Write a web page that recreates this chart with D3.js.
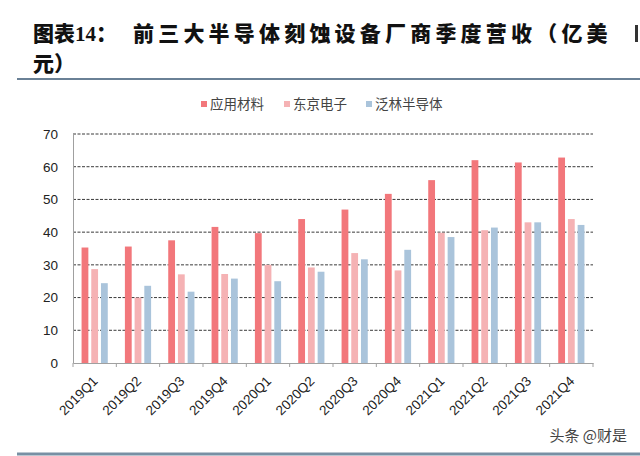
<!DOCTYPE html>
<html><head><meta charset="utf-8">
<script src="https://cdn.jsdelivr.net/npm/d3@7"></script>
<style>body{margin:0;background:#fff}svg{display:block}</style>
</head><body>
<svg id="c" width="640" height="456"></svg>
<script>
const categories = ["2019Q1","2019Q2","2019Q3","2019Q4","2020Q1","2020Q2","2020Q3","2020Q4","2021Q1","2021Q2","2021Q3","2021Q4"];
const seriesNames = ["应用材料","东京电子","泛林半导体"];
const amat = [35.3,35.6,37.5,41.6,39.7,44.0,46.9,51.7,55.9,62.0,61.3,62.8];
const tel  = [28.7,20.0,27.1,27.2,30.0,29.2,33.6,28.3,39.8,40.6,43.0,44.0];
const lam  = [24.4,23.6,21.8,25.8,25.0,27.9,31.7,34.6,38.5,41.4,43.0,42.2];
const yTicks = [0,10,20,30,40,50,60,70];
const colors = ["#f2777b","#f5b2b4","#aac4db"];

const svg = d3.select("#c");
const values = [amat, tel, lam];

// title
const t1 = svg.append("text").attr("x",33).attr("y",41)
  .style("font-family","'Noto Sans CJK SC'").style("font-weight","900").style("font-size","21px").attr("fill","#111");
t1.append("tspan").text("图表");
t1.append("tspan").style("font-family","'Liberation Serif'").style("font-weight","bold").text("14");
t1.append("tspan").text("：");
svg.append("text").attr("x",133).attr("y",41)
  .style("font-family","'Noto Sans CJK SC'").style("font-weight","900").style("font-size","21px")
  .style("letter-spacing","4.2px").attr("fill","#111")
  .text("前三大半导体刻蚀设备厂商季度营收（亿美");
svg.append("rect").attr("x",635).attr("y",25).attr("width",3).attr("height",17).attr("fill","#333");
svg.append("text").attr("x",33).attr("y",71)
  .style("font-family","'Noto Sans CJK SC'").style("font-weight","900").style("font-size","21px").attr("fill","#111")
  .text("元）");
svg.append("line").attr("x1",17).attr("x2",640).attr("y1",79).attr("y2",79).attr("stroke","#6a8196").attr("stroke-width",2);
svg.append("line").attr("x1",17).attr("x2",640).attr("y1",454).attr("y2",454).attr("stroke","#7890a4").attr("stroke-width",3);

// scales
const x0 = d3.scaleBand().domain(categories).range([73,593]).padding(0);
const bw = x0.bandwidth();
const x1 = d3.scaleBand().domain(seriesNames).range([bw/2-13.1, bw/2+13.1]).paddingInner(0.3).paddingOuter(0);
const y = d3.scaleLinear().domain([0,70]).range([363,134]);

// gridlines
svg.append("g").selectAll("line").data(yTicks.filter(d=>d>0)).join("line")
  .attr("x1",73).attr("x2",593).attr("y1",d=>y(d)).attr("y2",d=>y(d))
  .attr("stroke","#3a3a3a").attr("stroke-width",1).attr("stroke-dasharray","3,1.5");

// bars
seriesNames.forEach((s,i)=>{
  svg.append("g").selectAll("rect").data(categories).join("rect")
    .attr("x",d=>x0(d)+x1(s)).attr("width",x1.bandwidth())
    .attr("y",(d,j)=>y(values[i][j])).attr("height",(d,j)=>y(0)-y(values[i][j]))
    .attr("fill",colors[i]);
});

// y axis
const yAxis = d3.axisLeft(y).tickValues(yTicks).tickSize(0).tickPadding(15);
const gy = svg.append("g").attr("transform","translate(73,0)").call(yAxis);
gy.select(".domain").attr("stroke","#a0a0a0");
gy.selectAll("text").style("font-family","'Liberation Sans'").style("font-size","13.5px").attr("fill","#222");

// x axis
const xAxis = d3.axisBottom(x0).tickSize(0).tickFormat("");
const gx = svg.append("g").attr("transform","translate(0,363)").call(xAxis);
gx.select(".domain").attr("stroke","#a0a0a0");
const bounds = categories.map(c=>x0(c)).concat([x0.range()[1]]);
gx.selectAll("line.bt").data(bounds).join("line").attr("class","bt")
  .attr("x1",d=>d).attr("x2",d=>d).attr("y1",0).attr("y2",4).attr("stroke","#a0a0a0");
svg.append("g").selectAll("text").data(categories).join("text")
  .attr("transform",d=>`translate(${x0(d)+bw/2+4},${382}) rotate(-45)`)
  .attr("text-anchor","end")
  .style("font-family","'Liberation Sans'").style("font-size","13.5px").attr("fill","#222")
  .text(d=>d);

// legend
const legX = [201,284,366];
seriesNames.forEach((s,i)=>{
  svg.append("rect").attr("x",legX[i]).attr("y",101).attr("width",6).attr("height",6).attr("fill",colors[i]);
  svg.append("text").attr("x",legX[i]+9).attr("y",109)
    .style("font-family","'Noto Sans CJK SC'").style("font-size","13.5px").attr("fill","#444").text(s);
});

// watermark
svg.append("text").attr("x",627).attr("y",441).attr("text-anchor","end")
  .style("font-family","'Noto Sans CJK SC'").style("font-size","15px").attr("fill","#444").text("头条 @财是");
</script>
</body></html>
